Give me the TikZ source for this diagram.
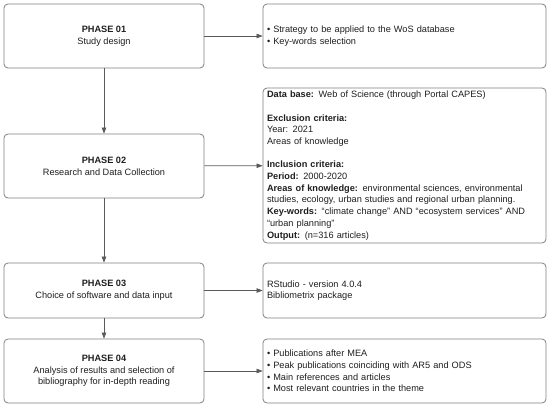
\documentclass[tikz,border=0pt]{standalone}
\usepackage{fontspec}
\setmainfont{Liberation Sans}
\usetikzlibrary{arrows.meta}
\definecolor{boxline}{HTML}{808080}
\definecolor{arrline}{HTML}{5A5A5A}
\definecolor{txt}{HTML}{1E1E1E}
\begin{document}
\begin{tikzpicture}[x=1pt,y=-1pt,
  every node/.style={font=\fontsize{9.2}{11.7}\selectfont, text=txt},
  phase/.style={draw=boxline, line width=0.8pt, rounded corners=4pt, minimum width=200pt, align=center, inner sep=0pt},
  info/.style={draw=boxline, line width=0.8pt, rounded corners=4pt, minimum width=283pt, text width=275pt, align=left, inner xsep=4pt, inner ysep=0pt},
  conn/.style={draw=arrline, line width=0.7pt, -{Triangle[length=6pt,width=4.5pt]}}]
\useasboundingbox (0,0) rectangle (550,407);
\node[phase, minimum height=64pt] (p1) at (104,36) {\textbf{PHASE 01}\\Study design};
\node[phase, minimum height=64pt] (p2) at (104,166) {\textbf{PHASE 02}\\Research and Data Collection};
\node[phase, minimum height=55pt] (p3) at (104,290.5) {\textbf{PHASE 03}\\Choice of software and data input};
\node[phase, minimum height=64pt] (p4) at (104,371) {\textbf{PHASE 04}\\Analysis of results and selection of\\bibliography for in-depth reading};
\node[info, minimum height=64pt] (r1) at (404.5,36) {• Strategy to be applied to the WoS database\\• Key-words selection};
\node[info, minimum height=155pt] (r2) at (404.5,165.5) {\textbf{Data base:} Web of Science (through Portal CAPES)\\[11.7pt]
\textbf{Exclusion criteria:}\\Year: 2021\\Areas of knowledge\\[11.7pt]
\textbf{Inclusion criteria:}\\\textbf{Period:} 2000-2020\\
\textbf{Areas of knowledge:} environmental sciences, environmental\\studies, ecology, urban studies and regional urban planning.\\
\textbf{Key-words:} “climate change” AND “ecosystem services” AND\\“urban planning”\\
\textbf{Output:} (n=316 articles)};
\node[info, minimum height=55pt] (r3) at (404.5,290.5) {RStudio - version 4.0.4\\Bibliometrix package};
\node[info, minimum height=64pt] (r4) at (404.5,371) {• Publications after MEA\\• Peak publications coinciding with AR5 and ODS\\• Main references and articles\\• Most relevant countries in the theme};
\draw[conn] (p1) -- (p2);
\draw[conn] (p2) -- (p3);
\draw[conn] (p3) -- (p4);
\draw[conn] (p1) -- (r1);
\draw[conn] (p2) -- (r2);
\draw[conn] (p3) -- (r3);
\draw[conn] (p4) -- (r4);
\end{tikzpicture}
\end{document}
